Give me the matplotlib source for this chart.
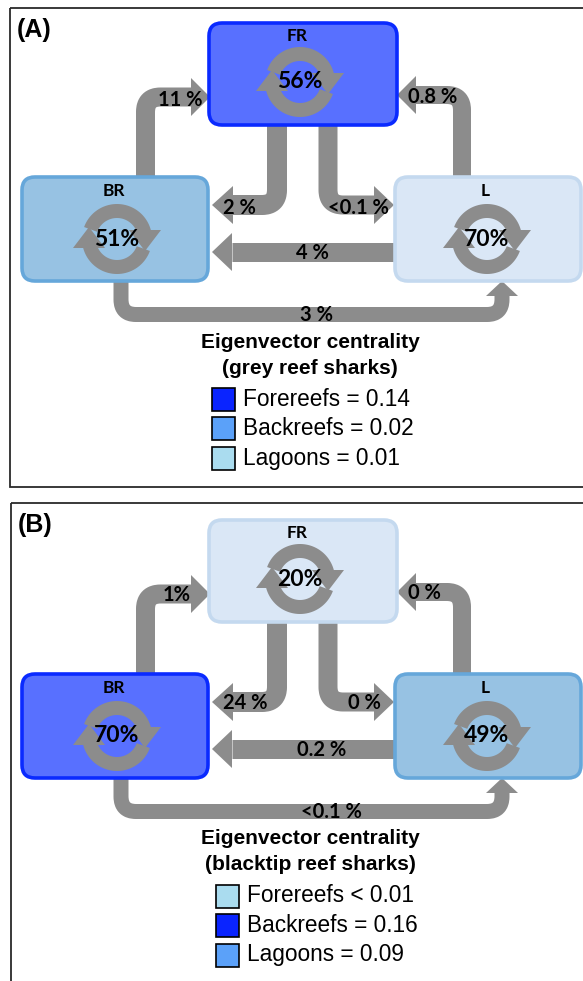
import matplotlib
matplotlib.use("Agg")
import matplotlib.pyplot as plt
import numpy as np
from matplotlib.patches import FancyBboxPatch, Rectangle, Polygon, PathPatch
from matplotlib.path import Path

W, H, DPI = 583, 981, 100

panel_tags = ["(A)", "(B)"]
species = ["grey reef sharks", "blacktip reef sharks"]
sites = ["FR", "BR", "L"]
habitats = ["Forereefs", "Backreefs", "Lagoons"]

# share of individuals that stay within each habitat (%)
retention_grey = [56, 51, 70]
retention_blacktip = [20, 70, 49]

# movements between habitats: BR->FR, L->FR, FR->BR, FR->L, L->BR, BR->L
flows_grey = ["11 %", "0.8 %", "2 %", "<0.1 %", "4 %", "3 %"]
flows_blacktip = ["1%", "0 %", "24 %", "0 %", "0.2 %", "<0.1 %"]

# eigenvector centrality of each habitat
centrality_grey = [0.14, 0.02, 0.01]
centrality_ops_grey = ["=", "=", "="]
centrality_blacktip = [0.01, 0.16, 0.09]
centrality_ops_blacktip = ["<", "=", "="]

# colours by centrality rank (highest first)
BOX_FILL = ["#5870ff", "#97c2e3", "#dae7f6"]
BOX_EDGE = ["#0a2aff", "#66a7da", "#c4d9ef"]
SWATCH = ["#0a24ff", "#5ba1f9", "#aadcef"]
GREY = "#8c8c8c"

BOLD_SANS = ["Lato", "DejaVu Sans"]
HELV = ["Liberation Sans", "DejaVu Sans"]

# node boxes (x0, y0, x1, y1), label and loop-icon anchors, in panel pixels
BOXES = [(209, 23, 397, 125), (22, 177, 208, 281), (395, 177, 581, 281)]
NODE_LABEL = [(297, 36), (114, 191), (485, 191)]
LOOP_CENTER = [(300, 82), (117, 239), (487, 239)]

# flow shafts (polyline with rounded corners), arrow tips, shaft width, head half width
EDGES = [
    dict(pts=[(145.5, 182), (145.5, 97), (191, 97)], tip=(210, 97), w=19, hw=19),
    dict(pts=[(462, 182), (462, 95), (416, 95)], tip=(397, 95), w=18, hw=19),
    dict(pts=[(277, 120), (277, 205), (233, 205)], tip=(212, 205), w=20, hw=19),
    dict(pts=[(328, 120), (328, 205), (374, 205)], tip=(394, 205), w=19, hw=19),
    dict(pts=[(398, 252), (232, 252)], tip=(212, 252), w=19, hw=19),
    dict(pts=[(121, 276), (121, 314.5), (502, 314.5), (502, 296)], tip=(502, 281), w=15, hw=16),
]
FLOW_LABEL_POS = [
    [(180, 100), (433, 97), (239, 208), (358, 208), (312, 253), (316, 315)],
    [(177, 98), (424, 96), (245, 206), (364, 206), (322, 253), (331, 315)],
]

PANEL_Y = [0, 497]
FRAME_TOP = [8, 503]
FRAME_BOTTOM = [487, 1000]
FRAME_LEFT = [10, 11]
LEGEND_X = [212, 216]


def rank_of(values):
    order = np.argsort(values)[::-1]
    ranks = np.empty(len(values), dtype=int)
    ranks[order] = np.arange(len(values))
    return ranks


def rounded_path(pts, r=15):
    pts = [np.array(p, float) for p in pts]
    verts = [pts[0]]
    codes = [Path.MOVETO]
    for i in range(1, len(pts) - 1):
        p0, p1, p2 = pts[i - 1], pts[i], pts[i + 1]
        a = p1 + r * (p0 - p1) / np.linalg.norm(p0 - p1)
        b = p1 + r * (p2 - p1) / np.linalg.norm(p2 - p1)
        verts += [a, p1, b]
        codes += [Path.LINETO, Path.CURVE3, Path.CURVE3]
    verts.append(pts[-1])
    codes.append(Path.LINETO)
    return Path(verts, codes)


def draw_flow(ax, edge, dy):
    pts = [(x, y + dy) for x, y in edge["pts"]]
    tip = np.array([edge["tip"][0], edge["tip"][1] + dy])
    ax.add_patch(PathPatch(rounded_path(pts), fill=False, edgecolor=GREY,
                           lw=edge["w"] * 72 / DPI, capstyle="butt",
                           joinstyle="round", zorder=1))
    base = np.array(pts[-1])
    d = (tip - base) / np.linalg.norm(tip - base)
    n = np.array([-d[1], d[0]])
    hw = edge["hw"]
    ax.add_patch(Polygon([base + n * hw, base - n * hw, tip], closed=True,
                         facecolor=GREY, edgecolor="none", zorder=1))


def draw_loop(ax, cx, cy):
    """Two clockwise half-ring arrows around (cx, cy)."""
    r_out, r_in = 35, 21
    rm = (r_out + r_in) / 2
    cut = 9      # heads sit on a horizontal cut this far from the centre line
    drop = 12    # head tip distance past the centre line
    half = 16    # head half width
    for s in (1, -1):
        # arc from the far side (just past the other head's tip) to the cut
        a_out = np.degrees(np.arcsin(cut / r_out))
        a_in = np.degrees(np.arcsin(cut / r_in))
        start = 160
        t_out = np.radians(np.linspace(start, a_out, 50))
        t_in = np.radians(np.linspace(a_in, start, 50))
        outer = np.c_[r_out * np.cos(t_out), -r_out * np.sin(t_out)]
        inner = np.c_[r_in * np.cos(t_in), -r_in * np.sin(t_in)]
        ring = np.vstack([outer, inner]) * s + [cx, cy]
        ax.add_patch(Polygon(ring, closed=True, facecolor=GREY,
                             edgecolor="none", zorder=3))
        head = np.array([(rm - half, -cut), (rm + half, -cut), (rm, drop)]) * s + [cx, cy]
        ax.add_patch(Polygon(head, closed=True, facecolor=GREY,
                             edgecolor="none", zorder=3))


fig = plt.figure(figsize=(W / DPI, H / DPI), dpi=DPI)
ax = fig.add_axes([0, 0, 1, 1])
ax.set_xlim(0, W)
ax.set_ylim(H, 0)
ax.axis("off")

panels = [
    (retention_grey, flows_grey, centrality_grey, centrality_ops_grey),
    (retention_blacktip, flows_blacktip, centrality_blacktip, centrality_ops_blacktip),
]

for k, (retention, flows, cent, ops) in enumerate(panels):
    dy = PANEL_Y[k]
    ranks = rank_of(cent)

    ax.add_patch(Rectangle((FRAME_LEFT[k], FRAME_TOP[k]), 700,
                           FRAME_BOTTOM[k] - FRAME_TOP[k], fill=False,
                           edgecolor="#2a2a2a", lw=1.3, zorder=0))
    ax.text(FRAME_LEFT[k] + 7, FRAME_TOP[k] + 22, panel_tags[k], family=HELV,
            fontweight="bold", fontsize=18, ha="left", va="center")

    for e in EDGES:
        draw_flow(ax, e, dy)

    for i, site in enumerate(sites):
        x0, y0, x1, y1 = BOXES[i]
        ax.add_patch(FancyBboxPatch((x0, y0 + dy), x1 - x0, y1 - y0,
                                    boxstyle="round,pad=0,rounding_size=13",
                                    facecolor=BOX_FILL[ranks[i]],
                                    edgecolor=BOX_EDGE[ranks[i]], lw=2.6, zorder=2))
        lx, ly = NODE_LABEL[i]
        ax.text(lx, ly + dy, site, family=BOLD_SANS, fontweight="bold",
                fontsize=12.5, ha="center", va="center", zorder=4)
        cx, cy = LOOP_CENTER[i]
        draw_loop(ax, cx, cy + dy)
        ax.text(cx, cy + dy, f"{retention[i]}%", family=BOLD_SANS,
                fontweight="bold", fontsize=16.5, ha="center", va="center", zorder=4)

    for (lx, ly), lab in zip(FLOW_LABEL_POS[k], flows):
        ax.text(lx, ly + dy, lab, family=BOLD_SANS, fontweight="bold",
                fontsize=14.5, ha="center", va="center", zorder=4)

    ax.text(310, 342 + dy, "Eigenvector centrality", family=HELV,
            fontweight="bold", fontsize=15, ha="center", va="center")
    ax.text(310, 368 + dy, f"({species[k]})", family=HELV,
            fontweight="bold", fontsize=15, ha="center", va="center")
    for j, hab in enumerate(habitats):
        ry = 399 + 29.5 * j + dy
        sx = LEGEND_X[k]
        ax.add_patch(Rectangle((sx, ry - 11.5), 23, 23, facecolor=SWATCH[ranks[j]],
                               edgecolor="black", lw=1.2, zorder=2))
        ax.text(sx + 31, ry, f"{hab} {ops[j]} {cent[j]:.2f}", family=HELV,
                fontsize=16.3, ha="left", va="center")

fig.savefig("out.png", dpi=DPI)
